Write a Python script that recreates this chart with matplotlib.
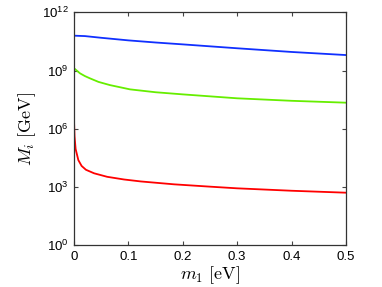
import numpy as np
import matplotlib
matplotlib.use("Agg")
import matplotlib.pyplot as plt
from matplotlib.ticker import FixedLocator, FuncFormatter, NullLocator

plt.rcParams['font.family'] = ['Liberation Sans', 'DejaVu Sans']
plt.rcParams['font.sans-serif'] = ['Liberation Sans']
plt.rcParams['mathtext.fontset'] = 'custom'
plt.rcParams['mathtext.rm'] = 'Liberation Sans'

# data (m1 in eV, M_i in GeV)
m1_blue = [0, 0.02, 0.05, 0.1, 0.15, 0.2, 0.3, 0.4, 0.5]
M3 = [6.3e10, 6.0e10, 4.9e10, 3.6e10, 2.8e10, 2.24e10, 1.41e10, 9.1e9, 6.3e9]

m1_green = [0, 0.005, 0.011, 0.02, 0.029, 0.045, 0.066, 0.103, 0.15, 0.2, 0.3, 0.4, 0.5]
M2 = [1.32e9, 1.0e9, 7.2e8, 5.2e8, 4.0e8, 2.6e8, 1.78e8, 1.07e8, 7.6e7, 5.9e7, 3.7e7, 2.75e7, 2.2e7]

m1_red = [0, 0.001, 0.003, 0.008, 0.014, 0.022, 0.037, 0.061, 0.092, 0.123, 0.184, 0.251, 0.3, 0.4, 0.5]
M1 = [2.8e6, 4.0e5, 8.9e4, 2.4e4, 1.2e4, 7.6e3, 5.0e3, 3.3e3, 2.4e3, 1.9e3, 1.35e3, 1.02e3, 840, 630, 500]

xticks = [0, 0.1, 0.2, 0.3, 0.4, 0.5]
yticks = [1e0, 1e3, 1e6, 1e9, 1e12]

fig = plt.figure(figsize=(3.82, 2.87), dpi=100)
ax = fig.add_axes([0.1937, 0.1463, 0.712, 0.8105])

ax.plot(m1_blue, M3, color='#1030ff', lw=1.3)
ax.plot(m1_green, M2, color='#66ee00', lw=1.3)
ax.plot(m1_red, M1, color='#ff0000', lw=1.3)

ax.set_yscale('log')
ax.set_xlim(0, 0.5)
ax.set_ylim(1e0, 1e12)
ax.set_xticks(xticks)
ax.set_xticklabels(['0', '0.1', '0.2', '0.3', '0.4', '0.5'])
ax.yaxis.set_major_locator(FixedLocator(yticks))
ax.yaxis.set_minor_locator(NullLocator())
ax.yaxis.set_major_formatter(FuncFormatter(
    lambda v, p: r'$\mathregular{10^{%d}}$' % int(round(np.log10(v)))))

ax.tick_params(direction='in', top=True, right=True, labelsize=9.5,
               length=3, width=0.8, color='#444444', pad=4)
for s in ax.spines.values():
    s.set_color('#333333')
    s.set_linewidth(0.9)

ax.set_xlabel(r'$m_1\ [\mathrm{eV}]$', fontsize=13, labelpad=1, math_fontfamily='cm')
ax.set_ylabel(r'$M_i\ [\mathrm{GeV}]$', fontsize=13, labelpad=3, math_fontfamily='cm')

fig.savefig('out.png', dpi=100)
